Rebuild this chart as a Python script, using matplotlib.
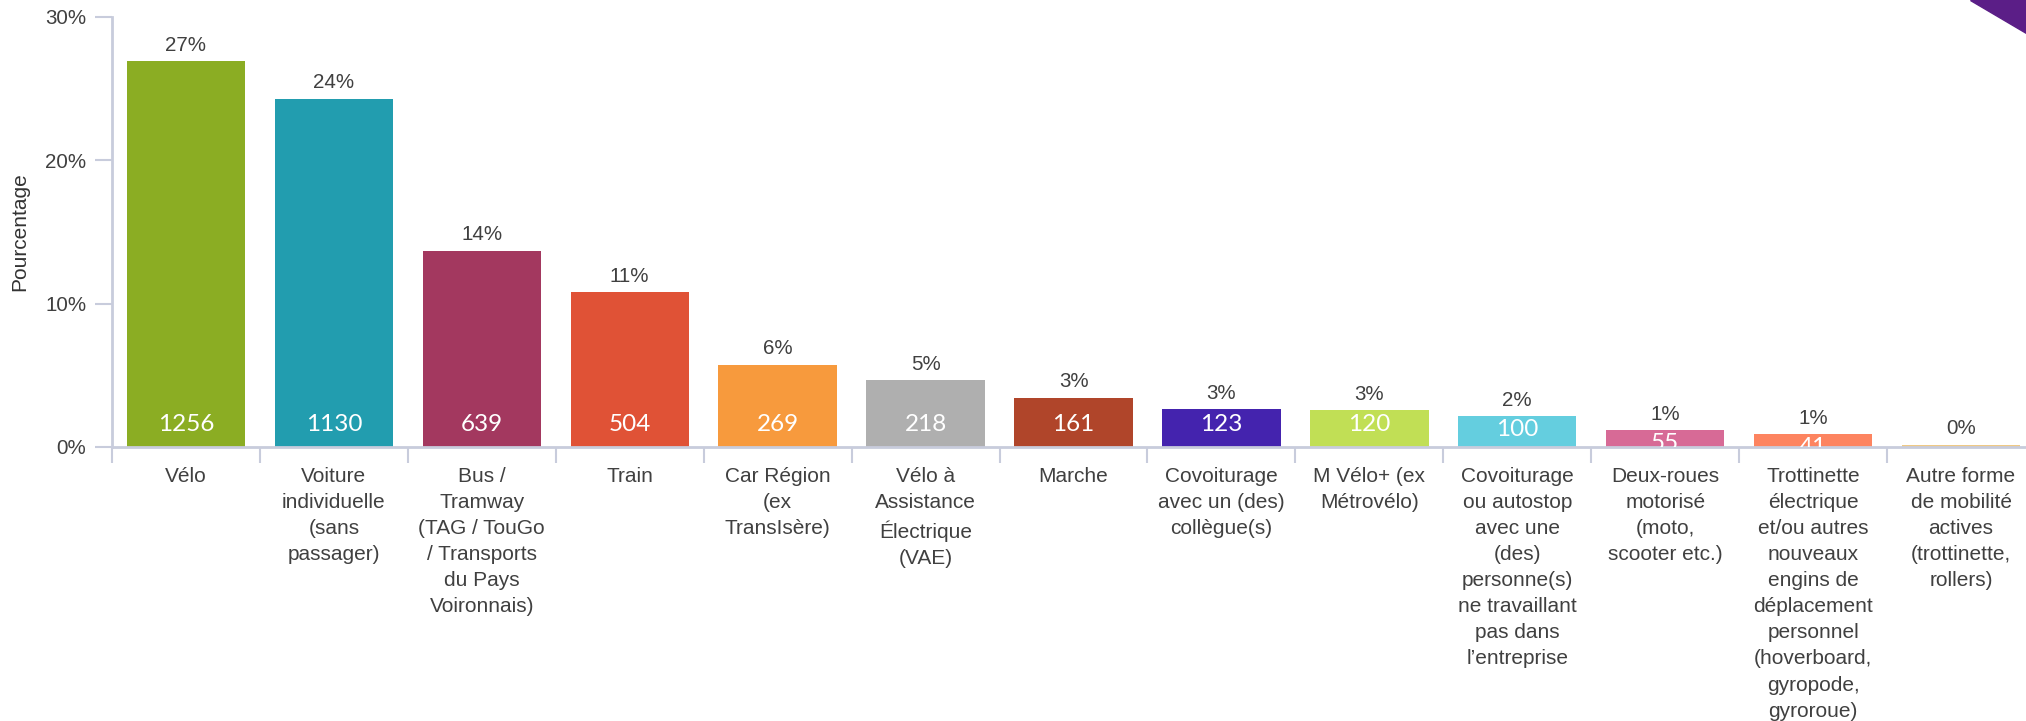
import numpy as np
import matplotlib
matplotlib.use("Agg")
import matplotlib.pyplot as plt
from matplotlib.patches import Polygon

plt.rcParams.update({
    'font.family': ['Liberation Sans', 'DejaVu Sans'],
    'figure.facecolor': 'white', 'axes.facecolor': 'white',
})

# ── Data ───────────────────────────────────────────────
modes = [
    "Vélo",
    "Voiture\nindividuelle\n(sans\npassager)",
    "Bus /\nTramway\n(TAG / TouGo\n/ Transports\ndu Pays\nVoironnais)",
    "Train",
    "Car Région\n(ex\nTransIsère)",
    "Vélo à\nAssistance\nÉlectrique\n(VAE)",
    "Marche",
    "Covoiturage\navec un (des)\ncollègue(s)",
    "M Vélo+ (ex\nMétrovélo)",
    "Covoiturage\nou autostop\navec une\n(des)\npersonne(s)\nne travaillant\npas dans\nl’entreprise",
    "Deux-roues\nmotorisé\n(moto,\nscooter etc.)",
    "Trottinette\nélectrique\net/ou autres\nnouveaux\nengins de\ndéplacement\npersonnel\n(hoverboard,\ngyropode,\ngyroroue)",
    "Autre forme\nde mobilité\nactives\n(trottinette,\nrollers)",
]
pct = [26.9, 24.3, 13.7, 10.8, 5.75, 4.65, 3.45, 2.63, 2.57, 2.15, 1.18, 0.88, 0.15]
pct_lbl = ["27%", "24%", "14%", "11%", "6%", "5%", "3%", "3%", "3%", "2%", "1%", "1%", "0%"]
counts = [1256, 1130, 639, 504, 269, 218, 161, 123, 120, 100, 55, 41, None]
colors = ['#8BAD23', '#229DAF', '#A3385F', '#E05236', '#F79A3D', '#AFAFAF',
          '#B0452A', '#4423AE', '#C1DF55', '#64CEDF', '#D76A96', '#FD8460', '#EFC985']

AX_CLR = '#C8CCDC'
TXT = '#404040'

W, H = 2026, 721
fig = plt.figure(figsize=(W / 100, H / 100), dpi=100)
ax = fig.add_axes([112 / W, 274 / H, (2035 - 112) / W, (704 - 274) / H])

x = np.arange(len(modes))
ax.bar(x, pct, 0.8, color=colors, linewidth=0, zorder=2)

# percentage labels above bars
for xi, p, s in zip(x, pct, pct_lbl):
    ax.annotate(s, xy=(xi, p), xytext=(0, 7.6), textcoords='offset points',
                ha='center', va='baseline', fontsize=14.8, color=TXT)

# counts inside bars (white, clipped at the axis)
for xi, p, c in zip(x, pct, counts):
    if c is None:
        continue
    yc = min(1.75, p - 0.75)
    ax.annotate(str(c), xy=(xi, yc), xytext=(0, -6.3), textcoords='offset points',
                ha='center', va='baseline', fontsize=17.5, color='white',
                family=['Lato', 'DejaVu Sans'], annotation_clip=False,
                clip_on=True, zorder=3)

ax.set_xlim(-0.5, len(modes) - 0.5)
ax.set_ylim(0, 30)
ax.set_yticks([0, 10, 20, 30], ["0%", "10%", "20%", "30%"])
ax.tick_params(axis='y', length=12, width=1.5, color=AX_CLR, pad=6.5,
               labelsize=14.8, labelcolor=TXT)
ax.set_xticks(np.arange(-0.5, len(modes), 1), [''] * (len(modes) + 1))
ax.tick_params(axis='x', which='major', length=11.5, width=1.5, color=AX_CLR)
ax.set_xticks(x, modes, minor=True)
ax.tick_params(axis='x', which='minor', length=0, pad=14.5, labelsize=15,
               labelcolor=TXT)
for lab in ax.get_xticklabels(minor=True):
    lab.set_linespacing(1.47)

for side in ['top', 'right']:
    ax.spines[side].set_visible(False)
for side in ['left', 'bottom']:
    ax.spines[side].set_color(AX_CLR)
    ax.spines[side].set_linewidth(2.0)

ax.set_ylabel("Pourcentage", fontsize=15, color='#333333')
ax.yaxis.set_label_coords((29 - 112) / (2035 - 112), 0.5)

# purple slide corner
fig.patches.append(Polygon([(1970 / W, 1), (1, 1), (1, 1 - 33 / H)], closed=True,
                           transform=fig.transFigure, color='#5B1E87'))

fig.savefig("out.png", dpi=100)
